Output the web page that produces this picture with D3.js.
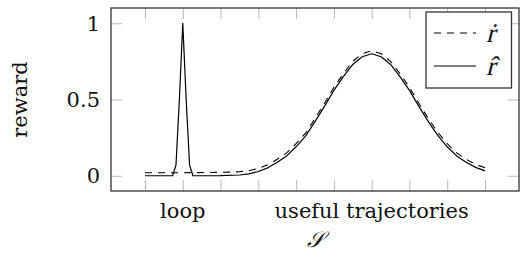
<!DOCTYPE html>
<html>
<head>
<meta charset="utf-8">
<script src="https://cdn.jsdelivr.net/npm/d3@7"></script>
<style>
  html, body { margin: 0; padding: 0; background: #fff; }
  svg text { font-family: "DejaVu Serif", "Liberation Serif", serif; fill: #111; }
  svg text.math { font-family: "Liberation Serif", serif; font-style: normal; }
</style>
</head>
<body>
<div id="plot"></div>
<script>
// values
const xTicks = [0, 1, 2, 3, 4, 5, 6, 7, 8, 9];
const yTicks = [0, 0.5, 1];
const yTickLabels = ["0", "0.5", "1"];
const xCategoryTicks = [1, 6];
const xCategoryLabels = ["loop", "useful trajectories"];

// r-hat (solid)
const hatX = [0, 0.73, 0.82, 0.91, 1, 1.09, 1.18, 1.27, 2, 2.5, 2.75, 3, 3.25, 3.5, 3.75, 4, 4.25, 4.5, 4.75, 5, 5.25, 5.5, 5.75, 6, 6.25, 6.5, 6.75, 7, 7.25, 7.5, 7.75, 8, 8.25, 8.5, 8.75, 9];
const hatY = [0, 0, 0.07, 0.5, 1, 0.5, 0.07, 0, 0.001, 0.005, 0.012, 0.028, 0.052, 0.088, 0.13, 0.19, 0.26, 0.355, 0.455, 0.56, 0.65, 0.73, 0.78, 0.8, 0.78, 0.73, 0.65, 0.56, 0.455, 0.355, 0.265, 0.19, 0.13, 0.088, 0.055, 0.032];

// r-dot (dashed)
const dotX = [0, 1, 2, 2.5, 2.75, 3, 3.25, 3.5, 3.75, 4, 4.25, 4.5, 4.75, 5, 5.25, 5.5, 5.75, 6, 6.25, 6.5, 6.75, 7, 7.25, 7.5, 7.75, 8, 8.25, 8.5, 8.75, 9];
const dotY = [0.02, 0.02, 0.022, 0.026, 0.033, 0.048, 0.072, 0.108, 0.15, 0.21, 0.28, 0.375, 0.475, 0.58, 0.67, 0.75, 0.8, 0.82, 0.8, 0.75, 0.67, 0.58, 0.475, 0.375, 0.285, 0.21, 0.15, 0.108, 0.075, 0.052];

const W = 521, H = 262;
const margin = { top: 8, right: 2, bottom: 71, left: 111 };
const width = W - margin.left - margin.right;
const height = H - margin.top - margin.bottom;

const svg = d3.select("#plot").append("svg")
  .attr("width", W)
  .attr("height", H);

const g = svg.append("g")
  .attr("transform", "translate(" + margin.left + "," + margin.top + ")");

const x = d3.scaleLinear().domain([-0.9, 9.9]).range([0, width]);
const y = d3.scaleLinear().domain([-0.1, 1.1]).range([height, 0]);

// grey inward ticks on all four sides
function styleTicks(sel) {
  sel.select(".domain").remove();
  sel.selectAll(".tick line").attr("stroke", "#b8b8b8").attr("stroke-width", 1);
}
g.append("g").attr("transform", "translate(0," + height + ")")
  .call(d3.axisBottom(x).tickValues(xTicks).tickSize(-11).tickFormat(""))
  .call(styleTicks);
g.append("g")
  .call(d3.axisTop(x).tickValues(xTicks).tickSize(-11).tickFormat(""))
  .call(styleTicks);
g.append("g")
  .call(d3.axisLeft(y).tickValues(yTicks).tickSize(-11).tickFormat(""))
  .call(styleTicks);
g.append("g").attr("transform", "translate(" + width + ",0)")
  .call(d3.axisRight(y).tickValues(yTicks).tickSize(-11).tickFormat(""))
  .call(styleTicks);

// tick labels
g.selectAll(".ylab")
  .data(yTicks)
  .enter().append("text")
  .attr("class", "ylab")
  .attr("x", -11)
  .attr("y", d => y(d))
  .attr("dy", "0.36em")
  .attr("text-anchor", "end")
  .style("font-size", "21px")
  .text((d, i) => yTickLabels[i]);

g.selectAll(".xlab")
  .data(xCategoryTicks)
  .enter().append("text")
  .attr("class", "xlab")
  .attr("x", d => x(d))
  .attr("y", 210)
  .attr("text-anchor", "middle")
  .style("font-size", "21px")
  .text((d, i) => xCategoryLabels[i]);

// axis titles
svg.append("text")
  .attr("transform", "translate(27," + (margin.top + y(0.5)) + ") rotate(-90)")
  .attr("text-anchor", "middle")
  .style("font-size", "21px")
  .text("reward");

svg.append("text")
  .attr("x", margin.left + width / 2)
  .attr("y", 247)
  .attr("text-anchor", "middle")
  .style("font-size", "22px")
  .style("font-style", "italic")
  .text("𝒮");

// lines
const hatData = hatX.map((d, i) => ({ x: d, y: hatY[i] }));
const dotData = dotX.map((d, i) => ({ x: d, y: dotY[i] }));
const line = d3.line().x(d => x(d.x)).y(d => y(d.y));

g.append("path")
  .datum(dotData)
  .attr("d", line)
  .attr("fill", "none")
  .attr("stroke", "#000")
  .attr("stroke-width", 1.1)
  .attr("stroke-dasharray", "7,6");

g.append("path")
  .datum(hatData)
  .attr("d", line)
  .attr("fill", "none")
  .attr("stroke", "#000")
  .attr("stroke-width", 1.2)
  .attr("stroke-linejoin", "round");

// frame
g.append("rect")
  .attr("x", 0).attr("y", 0)
  .attr("width", width).attr("height", height)
  .attr("fill", "none")
  .attr("stroke", "#333")
  .attr("stroke-width", 1.3);

// legend
const legend = svg.append("g").attr("transform", "translate(426,12)");
legend.append("rect")
  .attr("width", 85.5).attr("height", 76)
  .attr("fill", "#fff")
  .attr("stroke", "#333")
  .attr("stroke-width", 1.3);

// italic r faked with a skew, accent (dot / hat) on top of it
const legendItems = [
  { label: "r\u0307", dash: "7,6", yPos: 21 },
  { label: "r\u0302", dash: null, yPos: 54 }
];
legendItems.forEach(item => {
  legend.append("line")
    .attr("x1", 8).attr("x2", 50)
    .attr("y1", item.yPos).attr("y2", item.yPos)
    .attr("stroke", "#000")
    .attr("stroke-width", 1.1)
    .attr("stroke-dasharray", item.dash);
  legend.append("text")
    .attr("class", "math")
    .attr("transform", "translate(60," + (item.yPos + 9) + ") skewX(-14)")
    .style("font-size", "27px")
    .text(item.label);
});
</script>
</body>
</html>
